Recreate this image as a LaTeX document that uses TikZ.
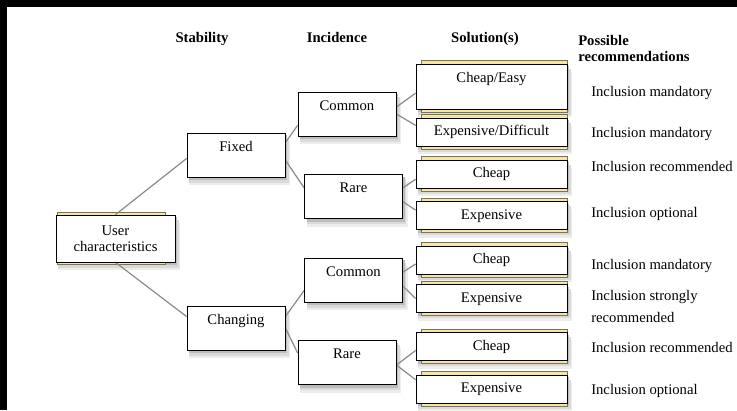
\documentclass[tikz,border=0pt]{standalone}
\usepackage{fontspec}
\setmainfont{Liberation Serif}
\usetikzlibrary{backgrounds}
\definecolor{paper}{HTML}{F5E6A3}
\definecolor{paperline}{HTML}{77735E}
\definecolor{wire}{HTML}{8A8A8A}
\definecolor{shadeA}{HTML}{EDEDED}
\definecolor{shadeB}{HTML}{DADADA}
\definecolor{shadeC}{HTML}{BDBDBD}

\begin{document}
\begin{tikzpicture}[x=0.75pt,y=-0.75pt,font=\fontsize{11}{13}\selectfont,
  box/.style={draw,fill=white,line width=0.6pt,inner sep=0pt},
  tree/.style={box,minimum width=73.5pt,text height=13.5pt,text depth=19.5pt},
  sol/.style={box,minimum width=113.25pt,minimum height=21pt,text height=8pt,text depth=2.5pt},
  under/.style={fill=paper,draw=paperline,line width=0.8pt},
  wire/.style={draw=wire,line width=0.9pt},
  head/.style={font=\fontsize{11}{12}\selectfont\bfseries,inner sep=0pt},
  rec/.style={anchor=base west,inner sep=0pt}]
  \useasboundingbox (0,0) rectangle (737,410);

  % column heads
  \node[head,anchor=base] (hstab) at (202,43) {Stability};
  \node[head,anchor=base] (hinc) at (337,43) {Incidence};
  \node[head,anchor=base] (hsol) at (485,43) {Solution(s)};
  \node[head,anchor=west,align=left] (hrec) at (578,48.5) {Possible\\recommendations};

  \node[box,minimum width=89.25pt,minimum height=35.25pt,align=center,
    font=\fontsize{11}{12}\selectfont] (user) at (115.5,238.5) {User\\characteristics};

  \node[tree] (fixed) at (236,155) {Fixed};
  \node[tree] (changing) at (236,328) {Changing};
  \node[tree] (common1) at (347,114) {Common};
  \node[tree] (rare1) at (353.5,196.5) {Rare};
  \node[tree] (common2) at (353.5,280) {Common};
  \node[tree] (rare2) at (347,362.5) {Rare};

  \node[box,minimum width=113.25pt,text height=13.5pt,text depth=20.25pt] (cheapeasy) at (491.5,86.5) {Cheap/Easy};
  \node[sol] (expdiff) at (491.5,132) {Expensive/Difficult};
  \node[sol] (cheap1) at (491.5,174) {Cheap};
  \node[sol] (exp1) at (491.5,215.5) {Expensive};
  \node[sol] (cheap2) at (491.5,260) {Cheap};
  \node[sol] (exp2) at (491.5,298.5) {Expensive};
  \node[sol] (cheap3) at (491.5,346.5) {Cheap};
  \node[sol] (exp3) at (491.5,389) {Expensive};

  \node[rec] (r1) at (591,96) {Inclusion mandatory};
  \node[rec] (r2) at (591,137) {Inclusion mandatory};
  \node[rec] (r3) at (591,171) {Inclusion recommended};
  \node[rec] (r4) at (591,217) {Inclusion optional};
  \node[rec] (r5) at (591,269) {Inclusion mandatory};
  \node[anchor=west,inner sep=0pt,align=left] (r6) at (591,306) {Inclusion strongly\\[3.5pt]recommended};
  \node[rec] (r7) at (591,352) {Inclusion recommended};
  \node[rec] (r8) at (591,394) {Inclusion optional};

  \begin{pgfonlayer}{background}
    \fill[black] (0,0) rectangle (737,410);
    \fill[white] (7,7) rectangle (737,410);
    % soft shadows, light to dark
    \foreach \n in {user,fixed,changing,common1,rare1,common2,rare2,
                    cheapeasy,expdiff,cheap1,exp1,cheap2,exp2,cheap3,exp3}{
      \fill[shadeA] ([xshift=2pt,yshift=-6pt]\n.north west) rectangle ([xshift=3.5pt,yshift=-6pt]\n.south east);
      \fill[shadeB] ([xshift=2pt,yshift=-4pt]\n.north west) rectangle ([xshift=2.4pt,yshift=-4pt]\n.south east);
      \fill[shadeC] ([xshift=2pt,yshift=-2pt]\n.north west) rectangle ([xshift=1.2pt,yshift=-2pt]\n.south east);
    }
    % stacked sheets behind the boxes
    \foreach \n in {cheapeasy,expdiff,cheap1,exp1,cheap2,exp2,cheap3,exp3}
      \draw[under] ([xshift=4.5pt,yshift=2.25pt]\n.north west) rectangle ([yshift=-2.25pt]\n.south east);
    \draw[under] ([xshift=1.5pt,yshift=1.5pt]user.north west) rectangle ([xshift=-7.5pt,yshift=-1.5pt]user.south east);
    \draw[wire] (user.north) -- (fixed.184);
    \draw[wire] (user.south) -- (changing.167);
    \foreach \a/\b in {fixed.14/common1.193,fixed.354/rare1.170,
                       changing.13/common2.192,changing.0/rare2.169,
                       common1.8/cheapeasy.185,common1.0/expdiff.175,
                       rare1.10/cheap1.184,rare1.354/exp1.176,
                       common2.9/cheap2.183,common2.353/exp2.180,
                       rare2.357/cheap3.183,rare2.357/exp3.173}
      \draw[wire] (\a) -- (\b);
  \end{pgfonlayer}
\end{tikzpicture}
\end{document}
